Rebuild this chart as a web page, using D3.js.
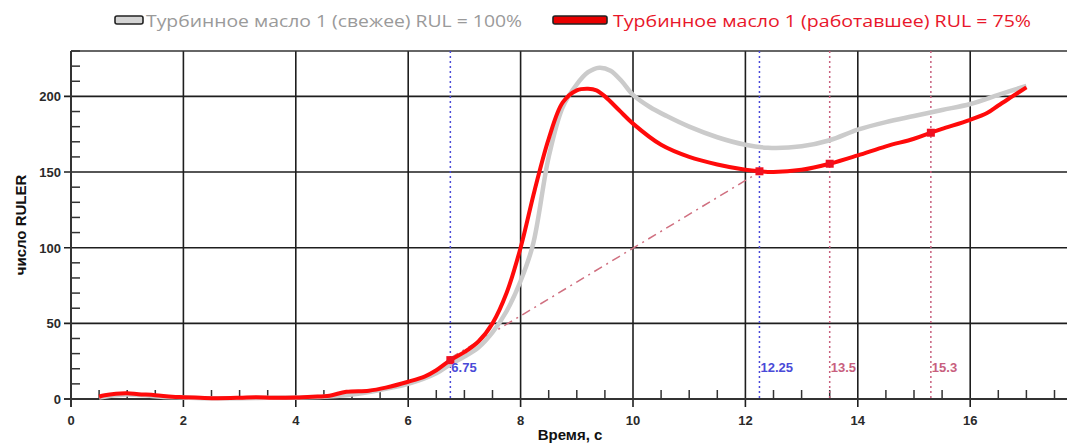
<!DOCTYPE html>
<html><head><meta charset="utf-8">
<script src="https://cdn.jsdelivr.net/npm/d3@7"></script>
<style>body{margin:0;background:#fff}svg{display:block}</style>
</head><body>
<svg id="c" width="1067" height="443"></svg>
<script>
// ---- data ----
const xTicks = [0, 2, 4, 6, 8, 10, 12, 14, 16];
const yTicks = [0, 50, 100, 150, 200];
const seriesNames = ["Турбинное масло 1 (свежее) RUL = 100%", "Турбинное масло 1 (работавшее) RUL = 75%"];
const freshX = [0.5,0.8,1.0,1.3,1.6,2.0,2.5,3.0,3.5,4.0,4.5,5.0,5.5,6.0,6.5,6.75,7.0,7.25,7.5,7.75,8.0,8.22,8.5,8.75,9.0,9.2,9.4,9.6,9.8,10.0,10.3,10.6,11.0,11.5,12.0,12.4,13.0,13.5,14.0,14.5,15.0,15.5,16.0,16.5,17.0];
const freshY = [1.0,2.5,3.0,2.5,1.5,1.0,0.5,0.5,0.8,1.0,1.5,3.0,6.0,10.0,17.0,23.0,28.0,34.0,44.0,58.0,78.0,102.0,160.0,193.0,208.0,216.0,219.0,217.0,210.0,201.0,193.0,187.0,180.0,173.0,168.0,166.0,167.0,171.0,178.0,183.0,187.0,191.0,195.0,201.0,207.0];
const usedX = [0.5,0.6,0.8,1.0,1.2,1.5,1.8,2.0,2.3,2.6,3.0,3.3,3.6,4.0,4.3,4.6,4.9,5.3,5.6,6.0,6.3,6.5,6.75,7.0,7.25,7.5,7.75,8.0,8.25,8.5,8.75,9.0,9.2,9.35,9.5,9.75,10.0,10.5,11.0,11.5,12.0,12.25,12.5,13.0,13.5,14.0,14.5,15.0,15.3,15.5,16.0,16.3,16.5,16.75,17.0];
const usedY = [1.5,2.5,3.5,3.8,3.2,2.5,1.5,1.2,0.8,0.5,0.8,1.2,0.8,1.0,1.5,2.2,4.8,5.5,7.5,11.4,15.0,19.0,25.7,31.0,38.0,50.0,70.0,100.0,138.0,172.0,196.0,204.0,205.0,204.0,200.0,191.0,182.0,168.0,160.0,155.0,151.5,150.5,150.0,151.5,155.5,161.0,167.0,172.0,176.0,178.5,184.5,189.0,194.0,200.0,206.0];
const markerX = [6.75, 12.25, 13.5, 15.3];
const markerY = [25.7, 150.5, 155.5, 176.0];
const markerLabels = ["6.75", "12.25", "13.5", "15.3"];
const markerGroup = ["blue", "blue", "pink", "pink"];
const trendX = [6.75, 12.25];
const trendY = [27, 150];

// ---- layout ----
const svg = d3.select("#c");
const x = d3.scaleLinear().domain([0, 17.8]).range([71, 71 + 17.8 * 56.2]);
const y = d3.scaleLinear().domain([0, 230]).range([399, 399 - 230 * 1.513]);
const [X0, X1] = x.range();
const [Y0, Y1] = y.range();
const grid = "#1e1e1e";

// minor ticks
const xMinor = d3.range(0.5, 17.8, 0.5).filter(v => v % 2 !== 0);
const yMinor = d3.range(10, 231, 10).filter(v => v % 50 !== 0);
svg.append("g").selectAll("line").data(xMinor).join("line")
  .attr("x1", d => x(d)).attr("x2", d => x(d)).attr("y1", Y0).attr("y2", Y0 - 9)
  .attr("stroke", "#333").attr("stroke-width", 1.5);
svg.append("g").selectAll("line").data(yMinor).join("line")
  .attr("x1", X0).attr("x2", X0 + 9).attr("y1", d => y(d)).attr("y2", d => y(d))
  .attr("stroke", "#333").attr("stroke-width", 1.5);

// grid
svg.append("g").selectAll("line").data(xTicks.filter(d => d > 0)).join("line")
  .attr("x1", d => x(d)).attr("x2", d => x(d)).attr("y1", Y1).attr("y2", Y0 + 8)
  .attr("stroke", grid).attr("stroke-width", 1.6);
svg.append("g").selectAll("line").data(yTicks.filter(d => d > 0)).join("line")
  .attr("x1", X0 - 7).attr("x2", 1067).attr("y1", d => y(d)).attr("y2", d => y(d))
  .attr("stroke", grid).attr("stroke-width", 1.6);
// frame
svg.append("line").attr("x1", X0).attr("x2", 1067).attr("y1", Y1).attr("y2", Y1).attr("stroke", "#333").attr("stroke-width", 1.6);
svg.append("line").attr("x1", X0 - 7).attr("x2", 1067).attr("y1", Y0).attr("y2", Y0).attr("stroke", "#333").attr("stroke-width", 2);
svg.append("line").attr("x1", X0).attr("x2", X0).attr("y1", Y1).attr("y2", Y0 + 8).attr("stroke", "#333").attr("stroke-width", 2);

// tick labels
svg.append("g").selectAll("text").data(xTicks).join("text")
  .attr("x", d => x(d)).attr("y", 425).attr("text-anchor", "middle")
  .attr("font-family", "Liberation Sans, Arial, sans-serif").attr("font-weight", "bold")
  .attr("font-size", 13).attr("fill", "#2a2a2a").text(d => d);
svg.append("g").selectAll("text").data(yTicks).join("text")
  .attr("x", 61).attr("y", d => y(d) + 5).attr("text-anchor", "end")
  .attr("font-family", "Liberation Sans, Arial, sans-serif").attr("font-weight", "bold")
  .attr("font-size", 13).attr("fill", "#2a2a2a").text(d => d);

// axis titles
svg.append("text").attr("transform", `translate(26,${(Y0 + Y1) / 2}) rotate(-90)`)
  .attr("text-anchor", "middle").attr("font-family", "Liberation Sans, Arial, sans-serif")
  .attr("font-weight", "bold").attr("font-size", 15).attr("fill", "#111").text("число RULER");
svg.append("text").attr("x", 570).attr("y", 440).attr("text-anchor", "middle")
  .attr("font-family", "Liberation Sans, Arial, sans-serif")
  .attr("font-weight", "bold").attr("font-size", 15).attr("fill", "#111").text("Время, с");

// vertical marker lines
const mColor = {blue: "#4a4ad8", pink: "#c8607e"};
svg.append("g").selectAll("line").data(markerX).join("line")
  .attr("x1", d => x(d)).attr("x2", d => x(d)).attr("y1", Y1).attr("y2", Y0)
  .attr("stroke", (d, i) => mColor[markerGroup[i]]).attr("stroke-width", 1.5)
  .attr("stroke-dasharray", "2,3");

// trend dashed line
svg.append("line").attr("x1", x(trendX[0])).attr("y1", y(trendY[0]))
  .attr("x2", x(trendX[1])).attr("y2", y(trendY[1]))
  .attr("stroke", "#d07080").attr("stroke-width", 1.5).attr("stroke-dasharray", "9,5,2,5");

// curves
const line = d3.line().x(d => x(d[0])).y(d => y(d[1])).curve(d3.curveCatmullRom.alpha(0.5));
svg.append("path").datum(d3.zip(freshX, freshY)).attr("d", line)
  .attr("fill", "none").attr("stroke", "#cbcbcb").attr("stroke-width", 4.5).attr("stroke-linejoin", "round");
svg.append("path").datum(d3.zip(usedX, usedY)).attr("d", line)
  .attr("fill", "none").attr("stroke", "#ff0a0a").attr("stroke-width", 4).attr("stroke-linejoin", "round");

// markers
svg.append("g").selectAll("rect").data(d3.zip(markerX, markerY)).join("rect")
  .attr("x", d => x(d[0]) - 4).attr("y", d => y(d[1]) - 4).attr("width", 8).attr("height", 8)
  .attr("fill", "#f01020");
svg.append("g").selectAll("text").data(markerX).join("text")
  .attr("x", d => x(d) + 1).attr("y", 372)
  .attr("font-family", "Liberation Sans, Arial, sans-serif").attr("font-weight", "bold")
  .attr("font-size", 13).attr("fill", (d, i) => mColor[markerGroup[i]]).text((d, i) => markerLabels[i]);

// legend
const legend = [
  {sx: 115, sw: 28, tx: 146, tw: 376, fill: "#d4d4d4", color: "#9a9a9a"},
  {sx: 553, sw: 54, tx: 613, tw: 418, fill: "#e80000", color: "#e8162a"}
];
legend.forEach((L, i) => {
  svg.append("rect").attr("x", L.sx).attr("y", 16).attr("width", L.sw).attr("height", 8).attr("rx", 2)
    .attr("fill", L.fill).attr("stroke", "#222").attr("stroke-width", 1.6);
  svg.append("text").attr("x", L.tx).attr("y", 27).attr("font-family", "Open Sans, sans-serif")
    .attr("font-size", 17).attr("fill", L.color)
    .attr("textLength", L.tw).attr("lengthAdjust", "spacingAndGlyphs").text(seriesNames[i]);
});
</script>
</body></html>
